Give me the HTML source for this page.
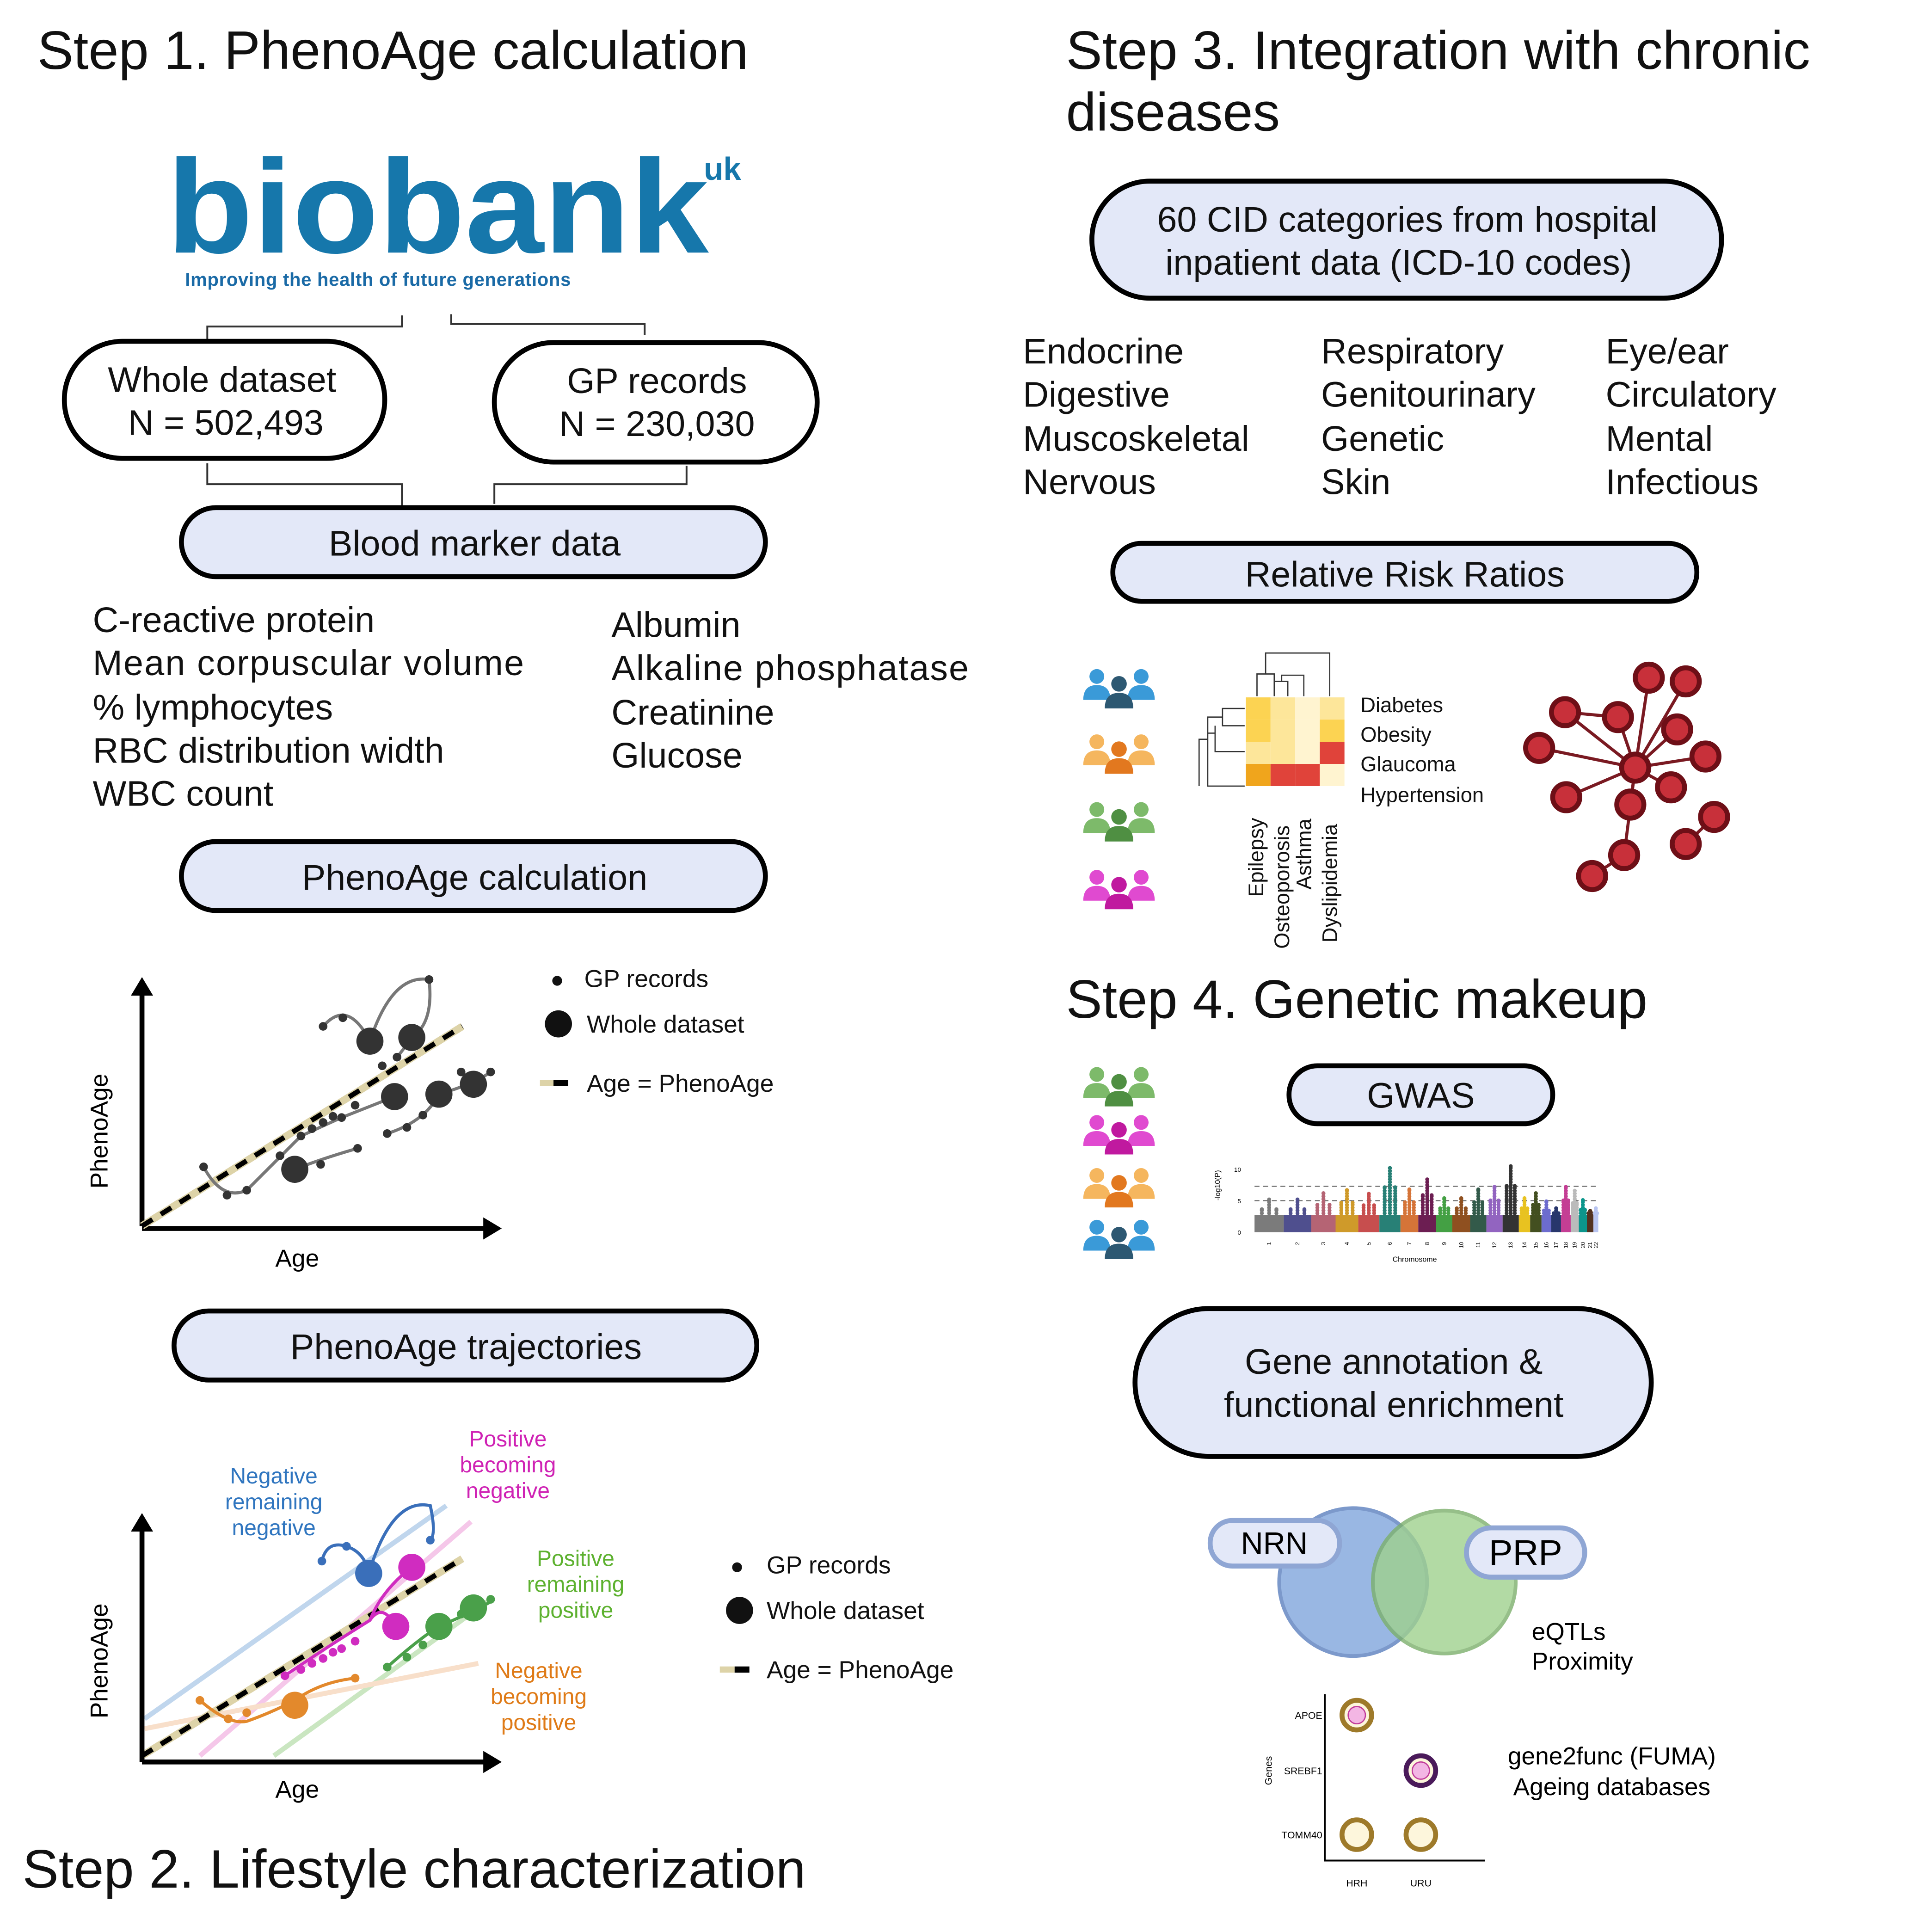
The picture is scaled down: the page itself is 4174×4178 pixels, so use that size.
<!DOCTYPE html>
<html><head><meta charset="utf-8"><style>
html,body{margin:0;padding:0;background:#fff}
svg{display:block}
text{font-family:"Liberation Sans",sans-serif}
</style></head><body>
<svg id="root" width="4174" height="4178" viewBox="0 0 1566 1568" xmlns="http://www.w3.org/2000/svg">
<rect width="1566" height="1568" fill="#fff"/>
<g font-size="44" fill="#111">
<text x="30" y="56">Step 1. PhenoAge calculation</text>
<text x="865" y="56">Step 3. Integration with chronic</text>
<text x="865" y="106">diseases</text>
<text x="865" y="826">Step 4. Genetic makeup</text>
<text x="18" y="1532">Step 2. Lifestyle characterization</text>
</g>
<g>
<text x="135" y="205" font-size="108" font-weight="bold" fill="#1677ab" textLength="440" lengthAdjust="spacingAndGlyphs">biobank</text>
<text x="571" y="146" font-size="26" font-weight="bold" fill="#1677ab">uk</text>
<text x="150" y="232" font-size="15" font-weight="bold" fill="#1a6aa6" textLength="313">Improving the health of future generations</text>
</g>
<g stroke="#333" stroke-width="1.5" fill="none">
<path d="M168,277V265H326V256"/><path d="M366,255V263H523V272"/>
<path d="M168,376V393H326V410"/><path d="M557,378V393H401V409"/>
</g>
<g stroke="#000" stroke-width="4">
<rect x="52" y="277" width="260" height="95" rx="47" fill="#fff"/>
<rect x="401" y="278" width="262" height="97" rx="48" fill="#fff"/>
<rect x="147" y="412" width="474" height="56" rx="28" fill="#e3e8f8"/>
<rect x="147" y="683" width="474" height="56" rx="28" fill="#e3e8f8"/>
<rect x="141" y="1064" width="473" height="56" rx="28" fill="#e3e8f8"/>
<rect x="886" y="147" width="511" height="95" rx="47" fill="#e3e8f8"/>
<rect x="903" y="441" width="474" height="47" rx="23" fill="#e3e8f8"/>
<rect x="1046" y="865" width="214" height="47" rx="23" fill="#e3e8f8"/>
<rect x="921" y="1062" width="419" height="120" rx="60" fill="#e3e8f8"/>
</g>
<g font-size="29" fill="#111" text-anchor="middle">
<text x="180" y="318">Whole dataset</text><text x="183" y="353">N = 502,493</text>
<text x="533" y="319">GP records</text><text x="533" y="354">N = 230,030</text>
<text x="385" y="451">Blood marker data</text>
<text x="385" y="722">PhenoAge calculation</text>
<text x="378" y="1103">PhenoAge trajectories</text>
<text x="1142" y="188">60 CID categories from hospital</text>
<text x="1135" y="223">inpatient data (ICD-10 codes)</text>
<text x="1140" y="476">Relative Risk Ratios</text>
<text x="1153" y="899">GWAS</text>
<text x="1131" y="1115">Gene annotation &amp;</text>
<text x="1131" y="1150">functional enrichment</text>
</g>
<g font-size="29" fill="#111">
<text x="75" y="513">C-reactive protein</text><text x="75" y="548" textLength="350">Mean corpuscular volume</text>
<text x="75" y="584">% lymphocytes</text><text x="75" y="619">RBC distribution width</text>
<text x="75" y="654">WBC count</text>
<text x="496" y="517">Albumin</text><text x="496" y="552" textLength="290">Alkaline phosphatase</text>
<text x="496" y="588">Creatinine</text><text x="496" y="623">Glucose</text>
</g>
<g font-size="29" fill="#111">
<text x="830" y="295">Endocrine</text><text x="830" y="330">Digestive</text><text x="830" y="366">Muscoskeletal</text><text x="830" y="401">Nervous</text>
<text x="1072" y="295">Respiratory</text><text x="1072" y="330">Genitourinary</text><text x="1072" y="366">Genetic</text><text x="1072" y="401">Skin</text>
<text x="1303" y="295">Eye/ear</text><text x="1303" y="330">Circulatory</text><text x="1303" y="366">Mental</text><text x="1303" y="401">Infectious</text>
</g>
<g id="chart1">
<path d="M115,995V805M115,997H395" stroke="#000" stroke-width="4" fill="none"/>
<path d="M106,808L115,793L124,808Z M392,988L407,997L392,1006Z" fill="#000"/>
<line x1="115" y1="995" x2="375" y2="833" stroke="#ddd3a8" stroke-width="6"/>
<line x1="115" y1="995" x2="375" y2="833" stroke="#000" stroke-width="4" stroke-dasharray="10,8"/>
<g stroke="#777" stroke-width="2.5" fill="none">
<path d="M262,833Q282,810 300,845"/><path d="M300,845Q318,790 348,795Q352,830 334,842"/>
<path d="M165,947Q180,975 200,966L244,922 277,907 320,890"/>
<path d="M239,949Q262,940 290,932"/><path d="M314,920Q345,910 356,888 384,880 398,870"/>
<path d="M322,858Q330,848 334,842"/>
</g>
<text x="87" y="918" font-size="20" transform="rotate(-90 87 918)" text-anchor="middle">PhenoAge</text>
<text x="241" y="1028" font-size="20" text-anchor="middle">Age</text>
</g>
<g font-size="20" fill="#111">
<circle cx="452" cy="796" r="4"/><text x="474" y="801">GP records</text>
<circle cx="453" cy="831" r="11"/><text x="476" y="838">Whole dataset</text>
<line x1="438" y1="879" x2="449" y2="879" stroke="#ddd3a8" stroke-width="5"/><line x1="449" y1="879" x2="461" y2="879" stroke="#000" stroke-width="5"/>
<text x="476" y="886">Age = PhenoAge</text>
<circle cx="598" cy="1272" r="4"/><text x="622" y="1277">GP records</text>
<circle cx="600" cy="1307" r="11"/><text x="622" y="1314">Whole dataset</text>
<line x1="584" y1="1355" x2="596" y2="1355" stroke="#ddd3a8" stroke-width="5"/><line x1="596" y1="1355" x2="608" y2="1355" stroke="#000" stroke-width="5"/>
<text x="622" y="1362">Age = PhenoAge</text>
</g>
<g id="chart2">
<g stroke-width="4" opacity="0.55" fill="none">
<line x1="117" y1="1395" x2="362" y2="1222" stroke="#8db5e0"/>
<line x1="162" y1="1425" x2="382" y2="1235" stroke="#ee9ad8"/>
<line x1="222" y1="1425" x2="398" y2="1298" stroke="#9fd28f"/>
<line x1="117" y1="1403" x2="388" y2="1350" stroke="#f4c6a0"/>
</g>
<line x1="115" y1="1425" x2="375" y2="1265" stroke="#ddd3a8" stroke-width="6"/>
<line x1="115" y1="1425" x2="375" y2="1265" stroke="#000" stroke-width="4" stroke-dasharray="10,8"/>
<path d="M115,1430V1240M115,1430H395" stroke="#000" stroke-width="4" fill="none"/>
<path d="M106,1243L115,1228L124,1243Z M392,1421L407,1430L392,1439Z" fill="#000"/>
<g fill="none" stroke-width="2.5">
<path d="M261,1267Q265,1250 281,1255Q296,1260 299,1277Q318,1215 349,1222Q354,1245 349,1250" stroke="#3a6fba"/>
<path d="M231,1360Q260,1340 300,1315Q310,1290 334,1272 M321,1320Q310,1300 300,1315" stroke="#d02cc0"/>
<path d="M314,1353Q340,1330 356,1320 384,1308 398,1300" stroke="#4aa04a"/>
<path d="M162,1380Q185,1400 200,1397 220,1390 239,1380 260,1365 288,1362" stroke="#e3892c"/>
</g>
<text x="87" y="1348" font-size="20" transform="rotate(-90 87 1348)" text-anchor="middle">PhenoAge</text>
<text x="241" y="1459" font-size="20" text-anchor="middle">Age</text>
</g>
<g font-size="18" text-anchor="middle">
<g fill="#2f75bf"><text x="222" y="1204">Negative</text><text x="222" y="1225">remaining</text><text x="222" y="1246">negative</text></g>
<g fill="#cf22b4"><text x="412" y="1174">Positive</text><text x="412" y="1195">becoming</text><text x="412" y="1216">negative</text></g>
<g fill="#5db12f"><text x="467" y="1271">Positive</text><text x="467" y="1292">remaining</text><text x="467" y="1313">positive</text></g>
<g fill="#df7a16"><text x="437" y="1362">Negative</text><text x="437" y="1383">becoming</text><text x="437" y="1404">positive</text></g>
</g>
<g id="people"></g>
<g id="heatmap">
<g stroke="#333" stroke-width="1" fill="none">
<path d="M1020,565V547H1034V565M1027,547V530H1079V565M1034,553H1045V565M1040,553V548H1058V565"/>
<path d="M1010,575H992V589H1010M992,582H980V638H1010M986,595H980M980,600H973V638M986,589V610H1010"/>
</g>
</g>
<g font-size="17" fill="#111">
<text x="1104" y="578">Diabetes</text><text x="1104" y="602">Obesity</text><text x="1104" y="626">Glaucoma</text><text x="1104" y="651">Hypertension</text>
<text transform="translate(1025,728) rotate(-90)">Epilepsy</text>
<text transform="translate(1046,770) rotate(-90)">Osteoporosis</text>
<text transform="translate(1064,722) rotate(-90)">Asthma</text>
<text transform="translate(1085,765) rotate(-90)">Dyslipidemia</text>
</g>
<g id="network"></g>
<g id="manhattan">
<text transform="translate(990,962) rotate(-90)" font-size="6" text-anchor="middle">-log10(P)</text>
<text x="1148" y="1024" font-size="6" text-anchor="middle">Chromosome</text>
</g>
<g>
<circle cx="1098" cy="1284" r="60" fill="#8fb0e0" stroke="#6e8ec6" stroke-width="3" opacity="0.9"/>
<circle cx="1172" cy="1284" r="58" fill="#9fd18e" stroke="#7cb06c" stroke-width="3" opacity="0.8"/>
<rect x="982" y="1234" width="105" height="37" rx="18" fill="#e3e8f8" stroke="#8fa6d4" stroke-width="4"/>
<text x="1034" y="1261" font-size="25" text-anchor="middle">NRN</text>
<rect x="1190" y="1240" width="96" height="40" rx="20" fill="#e3e8f8" stroke="#8fa6d4" stroke-width="4"/>
<text x="1238" y="1270" font-size="29" text-anchor="middle">PRP</text>
<text x="1243" y="1331" font-size="20">eQTLs</text><text x="1243" y="1355" font-size="20">Proximity</text>
<text x="1308" y="1432" font-size="20" text-anchor="middle">gene2func (FUMA)</text>
<text x="1308" y="1457" font-size="20" text-anchor="middle">Ageing databases</text>
</g>
<g id="dotplot">
<path d="M1075,1375V1510H1205" stroke="#000" stroke-width="1.5" fill="none"/>
<text transform="translate(1032,1437) rotate(-90)" font-size="8" text-anchor="middle">Genes</text>
</g>
<script>
const NS='http://www.w3.org/2000/svg';
function mk(p,t,a){const e=document.createElementNS(NS,t);for(const k in a)e.setAttribute(k,a[k]);p.appendChild(e);return e;}
const c1BigAge=[185,219,205,241,269,124];
const c1BigPheno=[150,153,105,107,115,46];
const c1SmallAge=[233,147,163,50,69,85,112,129,138,147,155,162,173,145,175,199,215,228,259,283,207,195];
const c1SmallPheno=[200,162,169,48,25,29,57,73,79,84,89,88,98,50,63,75,80,90,125,125,137,130];
const c1=document.getElementById('chart1');
const xA=a=>115+a, yA=p=>995-p;
c1SmallAge.forEach((a,i)=>{const c=mk(c1,'circle',{cx:xA(a),cy:yA(c1SmallPheno[i]),r:3.5,fill:'#333'});

});
c1BigAge.forEach((a,i)=>{const c=mk(c1,'circle',{cx:xA(a),cy:yA(c1BigPheno[i]),r:11,fill:'#333'});

});
const c2Groups=['#3a6fba','#d02cc0','#4aa04a','#e3892c'];
const c2BigAge=[[184],[219,206],[241,269],[124]];
const c2BigPheno=[[153],[158,110],[110,125],[46]];
const c2SmallAge=[[146,166,234],[116,129,138,147,155,162,173],[199,215,228,259,283],[47,70,85,173]];
const c2SmallPheno=[[163,175,180],[70,75,80,84,89,92,98],[77,85,95,120,132],[50,35,40,68]];
const c2=document.getElementById('chart2');
const xB=a=>115+a, yB=p=>1430-p;
c2Groups.forEach((col,g)=>{
c2SmallAge[g].forEach((a,i)=>{const c=mk(c2,'circle',{cx:xB(a),cy:yB(c2SmallPheno[g][i]),r:3.5,fill:col});

});
c2BigAge[g].forEach((a,i)=>{const c=mk(c2,'circle',{cx:xB(a),cy:yB(c2BigPheno[g][i]),r:11,fill:col});

});
});
const ppl=document.getElementById('people');
function person(x,y,s,col){mk(ppl,'circle',{cx:x,cy:y,r:6*s,fill:col});mk(ppl,'path',{d:`M${x-11*s},${y+19*s}Q${x-11*s},${y+7*s} ${x},${y+7*s}Q${x+11*s},${y+7*s} ${x+11*s},${y+19*s}Z`,fill:col});}
function group(x,y,light,dark){person(x-18,y-6,1,light);person(x+18,y-6,1,light);person(x,y,1.05,dark);}
[[908,555,'#3a9ad8','#2d5872'],[908,608,'#f5b65e','#e2781f'],[908,663,'#7dba6a','#4f8f42'],[908,718,'#e04ad0','#c0199f'],
 [908,878,'#7dba6a','#4f8f42'],[908,917,'#e04ad0','#c0199f'],[908,960,'#f5b65e','#e2781f'],[908,1002,'#3a9ad8','#2d5872']]
 .forEach(g=>group(...g));
const hmRows=['Diabetes','Obesity','Glaucoma','Hypertension'];
const hmCols=['Epilepsy','Osteoporosis','Asthma','Dyslipidemia'];
const hmValues=[[2,1,0.5,1],[2,1,0.5,2],[1,1,0.3,4],[3,4,4,0.3]];
const hm=document.getElementById('heatmap');
const hmCol=v=>v>=4?'#e0433a':v>=3?'#f0a51c':v>=2?'#fcd352':v>=1?'#fde69a':'#fff4d0';
hmValues.forEach((r,i)=>r.forEach((v,j)=>{const c=mk(hm,'rect',{x:1011+j*20,y:566+i*18,width:20,height:18,fill:hmCol(v)});

}));
const net=document.getElementById('network');
const hub=[1327,623];
const nodes=[[1338,550],[1368,553],[1313,582],[1270,578],[1361,592],[1384,614],[1249,607],[1271,647],[1356,639],[1323,653],[1391,663],[1368,685],[1318,694],[1292,711]];
const links=[[1338,550],[1368,553],[1313,582],[1270,578],[1361,592],[1384,614],[1249,607],[1271,647],[1356,639],[1323,653],[1318,694]];
links.forEach(n=>mk(net,'line',{x1:hub[0],y1:hub[1],x2:n[0],y2:n[1],stroke:'#7a1a22','stroke-width':2.5}));
mk(net,'line',{x1:1270,y1:578,x2:1313,y2:582,stroke:'#7a1a22','stroke-width':2.5});
mk(net,'line',{x1:1318,y1:694,x2:1292,y2:711,stroke:'#7a1a22','stroke-width':2.5});
mk(net,'line',{x1:1391,y1:663,x2:1368,y2:685,stroke:'#7a1a22','stroke-width':2.5});
nodes.concat([hub]).forEach(n=>mk(net,'circle',{cx:n[0],cy:n[1],r:11,fill:'#c8303a',stroke:'#6e0f17','stroke-width':4}));
const chrom=['1','2','3','4','5','6','7','8','9','10','11','12','13','14','15','16','17','18','19','20','21','22'];
const chrWidth=[18,17,15,14,13,13,11,11,10,11,10,10,10,7,7,6,6,6,5,5,4,3];
const chrMax=[5.2,5.2,6.2,6.7,6.1,10.2,6.8,8.4,5.4,5.4,6.8,7.2,10.5,5.4,6.2,4.9,3.8,7.2,6.6,5.1,3.4,3.8];
const chrColor=['#7b7b7b','#4f4f8e','#b56474','#cf9a2a','#c74e4e','#288076','#d57438','#6c1e52','#44a044','#8f5020','#335a4a','#9264c0','#333','#e8c220','#434f20','#6c6cce','#28366c','#c43e94','#bbb','#0c968c','#533220','#b8c4f0'];
const mh=document.getElementById('manhattan');
const mx0=1018, mxW=279, my=v=>1000-v*5.1;
const totW=chrWidth.reduce((a,b)=>a+b,0);
let cum=0;
[0,5,10].forEach(t=>{const tt=mk(mh,'text',{x:1007,y:my(t)+2,'font-size':5,'text-anchor':'end'});tt.textContent=t;});
[5,7.3].forEach(t=>mk(mh,'line',{x1:mx0,x2:mx0+mxW,y1:my(t),y2:my(t),stroke:'#555','stroke-width':0.7,'stroke-dasharray':'4,3'}));
chrom.forEach((c,i)=>{
 const x=mx0+cum/totW*mxW, w=chrWidth[i]/totW*mxW;
 const r=mk(mh,'rect',{x:x,y:my(2.7),width:w,height:my(0)-my(2.7),fill:chrColor[i]});
 
 
 [0.25,0.5,0.75].forEach((f,k)=>{const cx=x+w*f; const top=k==1?chrMax[i]:Math.max(3,chrMax[i]*0.7);
  for(let v=3;v<=top;v+=0.45)mk(mh,'circle',{cx:cx,cy:my(v),r:1.6,fill:chrColor[i]});
  mk(mh,'circle',{cx:cx,cy:my(top),r:1.6,fill:chrColor[i]});});
 const t=mk(mh,'text',{'font-size':4.5,transform:`translate(${x+w*0.5+1.5},1008) rotate(-90)`,'text-anchor':'end'});t.textContent=c;
 cum+=chrWidth[i];
});
const genes=['APOE','SREBF1','TOMM40'];
const groups=['HRH','URU'];
const dpPresent=[[1,0],[0,1],[1,1]];
const dpStrong=[[0,0],[0,1],[0,0]];
const dp=document.getElementById('dotplot');
const gy=[1392,1437,1489], gx=[1101,1153];
genes.forEach((g,i)=>{const t=mk(dp,'text',{x:1073,y:gy[i]+3,'font-size':8,'text-anchor':'end'});t.textContent=g;
 groups.forEach((h,j)=>{if(!dpPresent[i][j])return;
  const st=dpStrong[i][j];
  const c=mk(dp,'circle',{cx:gx[j],cy:gy[i],r:12,fill:'#fdf6dc',stroke:st?'#4a1a5a':'#9e7a2a','stroke-width':4});
  
  
  if(i<2)mk(dp,'circle',{cx:gx[j],cy:gy[i],r:7,fill:'#f3b6e4',stroke:'#c03a9a','stroke-width':1});});});
groups.forEach((h,j)=>{const t=mk(dp,'text',{x:gx[j],y:1531,'font-size':8,'text-anchor':'middle'});t.textContent=h;});
</script>
</svg>
</body></html>
